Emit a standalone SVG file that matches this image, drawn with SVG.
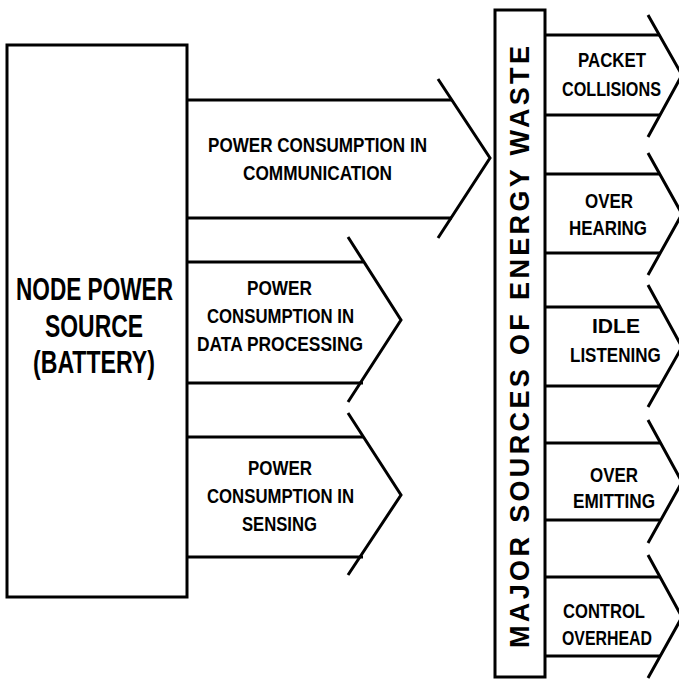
<svg xmlns="http://www.w3.org/2000/svg" width="679" height="684" viewBox="0 0 679 684">
<style>
.box{fill:#fff;stroke:#000;stroke-width:3}
.ln{stroke:#000;stroke-width:3;fill:none}
.ch{stroke:#000;stroke-width:3;fill:none;stroke-linejoin:miter}
text{font-family:"Liberation Sans",Arial,sans-serif;font-weight:bold;fill:#000}
.s{font-size:20.5px}
.b{font-size:30.5px}
.v{font-size:27px}
</style>
<rect width="679" height="684" fill="#fff"/>
<g id="connectors">
<line class="ln" x1="187" y1="100" x2="452" y2="100"/>
<line class="ln" x1="187" y1="218" x2="452" y2="218"/>
<polyline class="ch" points="438,79 490,158 438,238"/>
<line class="ln" x1="187" y1="262" x2="363" y2="262"/>
<line class="ln" x1="187" y1="383" x2="363" y2="383"/>
<polyline class="ch" points="348,237 401,320 348,402"/>
<line class="ln" x1="187" y1="437" x2="363" y2="437"/>
<line class="ln" x1="187" y1="557" x2="363" y2="557"/>
<polyline class="ch" points="348,413 401,495 348,575"/>
<line class="ln" x1="545" y1="35" x2="660" y2="35"/>
<line class="ln" x1="545" y1="115" x2="660" y2="115"/>
<polyline class="ch" points="648,15 682,75 648,137"/>
<line class="ln" x1="545" y1="174" x2="660" y2="174"/>
<line class="ln" x1="545" y1="253" x2="660" y2="253"/>
<polyline class="ch" points="648,153 682,214 648,275"/>
<line class="ln" x1="545" y1="307" x2="660" y2="307"/>
<line class="ln" x1="545" y1="386" x2="660" y2="386"/>
<polyline class="ch" points="648,285 682,347 648,407"/>
<line class="ln" x1="545" y1="443" x2="660" y2="443"/>
<line class="ln" x1="545" y1="520" x2="660" y2="520"/>
<polyline class="ch" points="648,420 682,482 648,543"/>
<line class="ln" x1="545" y1="577" x2="660" y2="577"/>
<line class="ln" x1="545" y1="656" x2="660" y2="656"/>
<polyline class="ch" points="648,555 682,617 648,678"/>
</g>
<g id="node-power-source">
<rect class="box" x="7" y="45" width="180" height="552"/>
<text class="b" x="16" y="300" textLength="157" lengthAdjust="spacingAndGlyphs">NODE POWER</text>
<text class="b" x="45" y="337" textLength="98" lengthAdjust="spacingAndGlyphs">SOURCE</text>
<text class="b" x="33" y="373" textLength="122" lengthAdjust="spacingAndGlyphs">(BATTERY)</text>
</g>
<g id="communication">
<text class="s" x="208" y="152" textLength="219" lengthAdjust="spacingAndGlyphs">POWER CONSUMPTION IN</text>
<text class="s" x="243" y="180" textLength="149" lengthAdjust="spacingAndGlyphs">COMMUNICATION</text>
</g>
<g id="data-processing">
<text class="s" x="247" y="295" textLength="65" lengthAdjust="spacingAndGlyphs">POWER</text>
<text class="s" x="207" y="323" textLength="147" lengthAdjust="spacingAndGlyphs">CONSUMPTION IN</text>
<text class="s" x="197" y="351" textLength="166" lengthAdjust="spacingAndGlyphs">DATA PROCESSING</text>
</g>
<g id="sensing">
<text class="s" x="248" y="475" textLength="64" lengthAdjust="spacingAndGlyphs">POWER</text>
<text class="s" x="207" y="503" textLength="147" lengthAdjust="spacingAndGlyphs">CONSUMPTION IN</text>
<text class="s" x="242" y="531" textLength="75" lengthAdjust="spacingAndGlyphs">SENSING</text>
</g>
<g id="energy-waste">
<rect class="box" x="495" y="10" width="50" height="667"/>
<text class="v" transform="translate(529,347) rotate(-90)" x="0" y="0" text-anchor="middle" textLength="602" lengthAdjust="spacing">MAJOR SOURCES OF ENERGY WASTE</text>
</g>
<g id="packet-collisions">
<text class="s" x="578" y="67" textLength="68" lengthAdjust="spacingAndGlyphs">PACKET</text>
<text class="s" transform="translate(562,96) scale(0.79,1)" x="0" y="0">COLLISIONS</text>
</g>
<g id="over-hearing">
<text class="s" x="585" y="208" textLength="48" lengthAdjust="spacingAndGlyphs">OVER</text>
<text class="s" x="569" y="235" textLength="78" lengthAdjust="spacingAndGlyphs">HEARING</text>
</g>
<g id="idle-listening">
<text class="s" x="592" y="333" textLength="48" lengthAdjust="spacingAndGlyphs">IDLE</text>
<text class="s" transform="translate(570,362) scale(0.83,1)" x="0" y="0">LISTENING</text>
</g>
<g id="over-emitting">
<text class="s" x="590" y="482" textLength="48" lengthAdjust="spacingAndGlyphs">OVER</text>
<text class="s" x="573" y="508" textLength="82" lengthAdjust="spacingAndGlyphs">EMITTING</text>
</g>
<g id="control-overhead">
<text class="s" x="563" y="618" textLength="82" lengthAdjust="spacingAndGlyphs">CONTROL</text>
<text class="s" x="562" y="645" textLength="90" lengthAdjust="spacingAndGlyphs">OVERHEAD</text>
</g>
</svg>
